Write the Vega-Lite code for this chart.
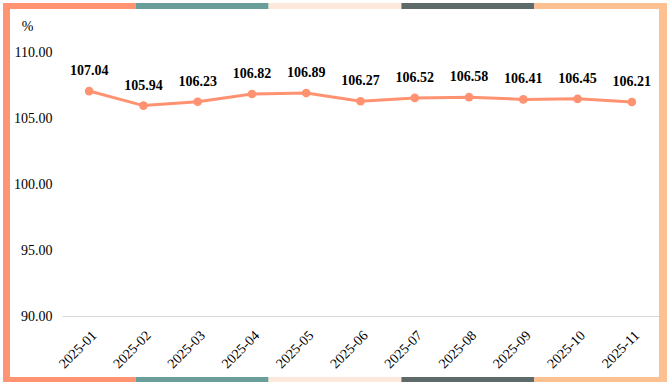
{
  "$schema": "https://vega.github.io/schema/vega-lite/v6.json",
  "background": "white",
  "padding": {"left": 3, "top": 3, "right": 3, "bottom": 4},
  "config": {"view": {"stroke": null}, "font": "Liberation Serif"},
  "datasets": {
    "series": [
      {"month": "2025-01", "value": 107.04},
      {"month": "2025-02", "value": 105.94},
      {"month": "2025-03", "value": 106.23},
      {"month": "2025-04", "value": 106.82},
      {"month": "2025-05", "value": 106.89},
      {"month": "2025-06", "value": 106.27},
      {"month": "2025-07", "value": 106.52},
      {"month": "2025-08", "value": 106.58},
      {"month": "2025-09", "value": 106.41},
      {"month": "2025-10", "value": 106.45},
      {"month": "2025-11", "value": 106.21}
    ],
    "stripe": [
      {"seg": 1, "c": "#FF9372"},
      {"seg": 2, "c": "#699E9B"},
      {"seg": 3, "c": "#FDE8DC"},
      {"seg": 4, "c": "#5E6A6A"},
      {"seg": 5, "c": "#FDC090"}
    ],
    "one": [{"k": 1}]
  },
  "spacing": 0,
  "bounds": "full",
  "vconcat": [
    {
      "width": 664, "height": 6,
      "data": {"name": "stripe"},
      "mark": "rect",
      "encoding": {
        "x": {"field": "seg", "type": "ordinal", "scale": {"paddingInner": 0, "paddingOuter": 0}, "axis": null},
        "color": {"field": "c", "type": "nominal", "scale": null}
      }
    },
    {
      "spacing": 0,
      "bounds": "full",
      "hconcat": [
        {
          "width": 7, "height": 368,
          "data": {"name": "one"},
          "mark": {"type": "rect", "color": "#FF9372"},
          "encoding": {}
        },
        {
          "columns": 2,
          "spacing": 0,
          "bounds": "flush",
          "concat": [
            {
              "width": 52, "height": 43,
              "data": {"name": "one"},
              "mark": {"type": "rect", "color": "white"},
              "encoding": {}
            },
            {
              "width": 1, "height": 1,
              "data": {"name": "one"},
              "mark": {"type": "rect", "color": "white"},
              "encoding": {}
            },
            {
              "width": 1, "height": 1,
              "data": {"name": "one"},
              "mark": {"type": "rect", "color": "white"},
              "encoding": {}
            },
            {
              "width": 597, "height": 264,
              "data": {"name": "series"},
              "encoding": {
                "x": {
                  "field": "month", "type": "ordinal",
                  "scale": {"type": "point", "padding": 0.5},
                  "axis": {
                    "title": null, "labelAngle": -45, "ticks": false,
                    "labelFont": "Liberation Serif", "labelFontSize": 14, "labelColor": "#000000",
                    "labelPadding": 12, "domainColor": "#d9d9d9", "domainWidth": 1
                  }
                },
                "y": {
                  "field": "value", "type": "quantitative",
                  "scale": {"domain": [90, 110], "zero": false, "nice": false},
                  "axis": {
                    "values": [90, 95, 100, 105, 110], "format": ".2f",
                    "grid": false, "domain": false, "ticks": false,
                    "labelFont": "Liberation Serif", "labelFontSize": 14, "labelColor": "#000000",
                    "labelPadding": 10,
                    "title": "%", "titleAngle": 0, "titleX": -35, "titleY": -22,
                    "titleAlign": "center", "titleBaseline": "alphabetic",
                    "titleFont": "Liberation Serif", "titleFontSize": 14, "titleFontWeight": "normal", "titleColor": "#000000"
                  }
                }
              },
              "layer": [
                {"mark": {"type": "line", "color": "#FF9270", "strokeWidth": 3}},
                {"mark": {"type": "point", "filled": true, "color": "#FF9270", "size": 75, "opacity": 1}},
                {
                  "mark": {"type": "text", "dy": -16, "baseline": "alphabetic", "font": "Liberation Serif", "fontSize": 14, "fontWeight": "bold", "color": "#000000"},
                  "encoding": {"text": {"field": "value", "type": "quantitative", "format": ".2f"}}
                }
              ]
            }
          ]
        },
        {
          "width": 8, "height": 368,
          "data": {"name": "one"},
          "mark": {"type": "rect", "color": "#FDC090"},
          "encoding": {}
        }
      ]
    },
    {
      "width": 664, "height": 5,
      "data": {"name": "stripe"},
      "mark": "rect",
      "encoding": {
        "x": {"field": "seg", "type": "ordinal", "scale": {"paddingInner": 0, "paddingOuter": 0}, "axis": null},
        "color": {"field": "c", "type": "nominal", "scale": null}
      }
    }
  ]
}
